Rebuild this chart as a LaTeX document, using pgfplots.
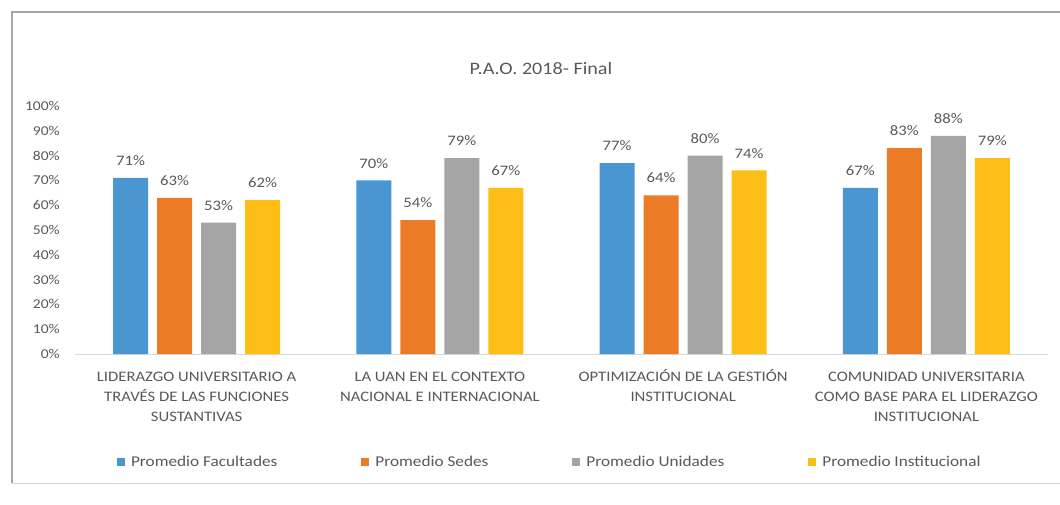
\documentclass[border=0pt]{standalone}
\usepackage{pgfplots}
\pgfplotsset{compat=1.18}
\usepackage{fontspec}
\setmainfont{Carlito}[FakeStretch=1.15]
\definecolor{cblue}{RGB}{74,150,208}
\definecolor{corange}{RGB}{236,123,37}
\definecolor{cgray}{RGB}{165,165,165}
\definecolor{cyellow}{RGB}{253,190,22}
\definecolor{txt}{RGB}{89,89,89}
\definecolor{frame}{RGB}{166,166,166}
\definecolor{axisline}{RGB}{217,217,217}
\begin{document}
\begin{tikzpicture}[x=1pt,y=1pt]
\useasboundingbox (0,0) rectangle (1060,504);
\fill[white] (0,0) rectangle (1060,504);
\draw[line width=1.5pt, frame] (1060,492) -- (12,492) -- (12,21);
\draw[line width=1pt, axisline] (12,21) -- (1060,21);
\node[text=txt, font=\fontsize{17.5}{20}\selectfont] at (541,435.5) {P.A.O. 2018- Final};
\begin{axis}[at={(75pt,150pt)}, anchor=south west, scale only axis,
  width=973pt, height=248pt,
  ybar=9pt, bar width=35pt,
  xmin=-0.5, xmax=3.5, ymin=0, ymax=100,
  axis x line=bottom, axis y line=left,
  x axis line style={draw=axisline, line width=1pt, -},
  y axis line style={draw=none},
  major tick length=0pt, tick style={draw=none},
  /pgf/number format/assume math mode=true,
  xtick={0,1,2,3},
  xticklabels={
    {\vphantom{Ó}LIDERAZGO UNIVERSITARIO A\\TRAVÉS DE LAS FUNCIONES\\SUSTANTIVAS},
    {\vphantom{Ó}LA UAN EN EL CONTEXTO\\NACIONAL E INTERNACIONAL},
    {\vphantom{Ó}OPTIMIZACIÓN DE LA GESTIÓN\\INSTITUCIONAL},
    {\vphantom{Ó}COMUNIDAD UNIVERSITARIA\\COMO BASE PARA EL LIDERAZGO\\INSTITUCIONAL}},
  xticklabel style={align=center, inner sep=0pt, yshift=-15pt, text=txt, font=\fontsize{14.5}{20}\selectfont},
  ytick={0,10,...,100},
  yticklabels={0\%,10\%,20\%,30\%,40\%,50\%,60\%,70\%,80\%,90\%,100\%},
  yticklabel style={inner sep=0pt, anchor=east, xshift=-15pt, text=txt, font=\fontsize{13.5}{16}\selectfont},
  nodes near coords={\pgfmathprintnumber{\pgfplotspointmeta}\%},
  every node near coord/.append style={text=txt, font=\fontsize{14.5}{17}\selectfont, inner sep=0pt, yshift=12pt},
  legend columns=4,
  legend image code/.code={\fill[#1,draw=none] (0pt,-4pt) rectangle (8pt,4pt);},
  legend style={at={(0.0432,-0.4355)}, anchor=west, draw=none, fill=none,
    inner sep=0pt, outer sep=0pt,
    font=\fontsize{15}{17}\selectfont, text=txt,
    nodes={inner sep=0pt},
    /tikz/every odd column/.append style={column sep=6pt},
    /tikz/every even column/.append style={column sep=84pt}},
]
\addplot[fill=cblue, draw=none] coordinates {(0,71) (1,70) (2,77) (3,67)};
\addplot[fill=corange, draw=none] coordinates {(0,63) (1,54) (2,64) (3,83)};
\addplot[fill=cgray, draw=none] coordinates {(0,53) (1,79) (2,80) (3,88)};
\addplot[fill=cyellow, draw=none] coordinates {(0,62) (1,67) (2,74) (3,79)};
\legend{Promedio Facultades, Promedio Sedes, Promedio Unidades, Promedio Institucional}
\end{axis}
\end{tikzpicture}
\end{document}
